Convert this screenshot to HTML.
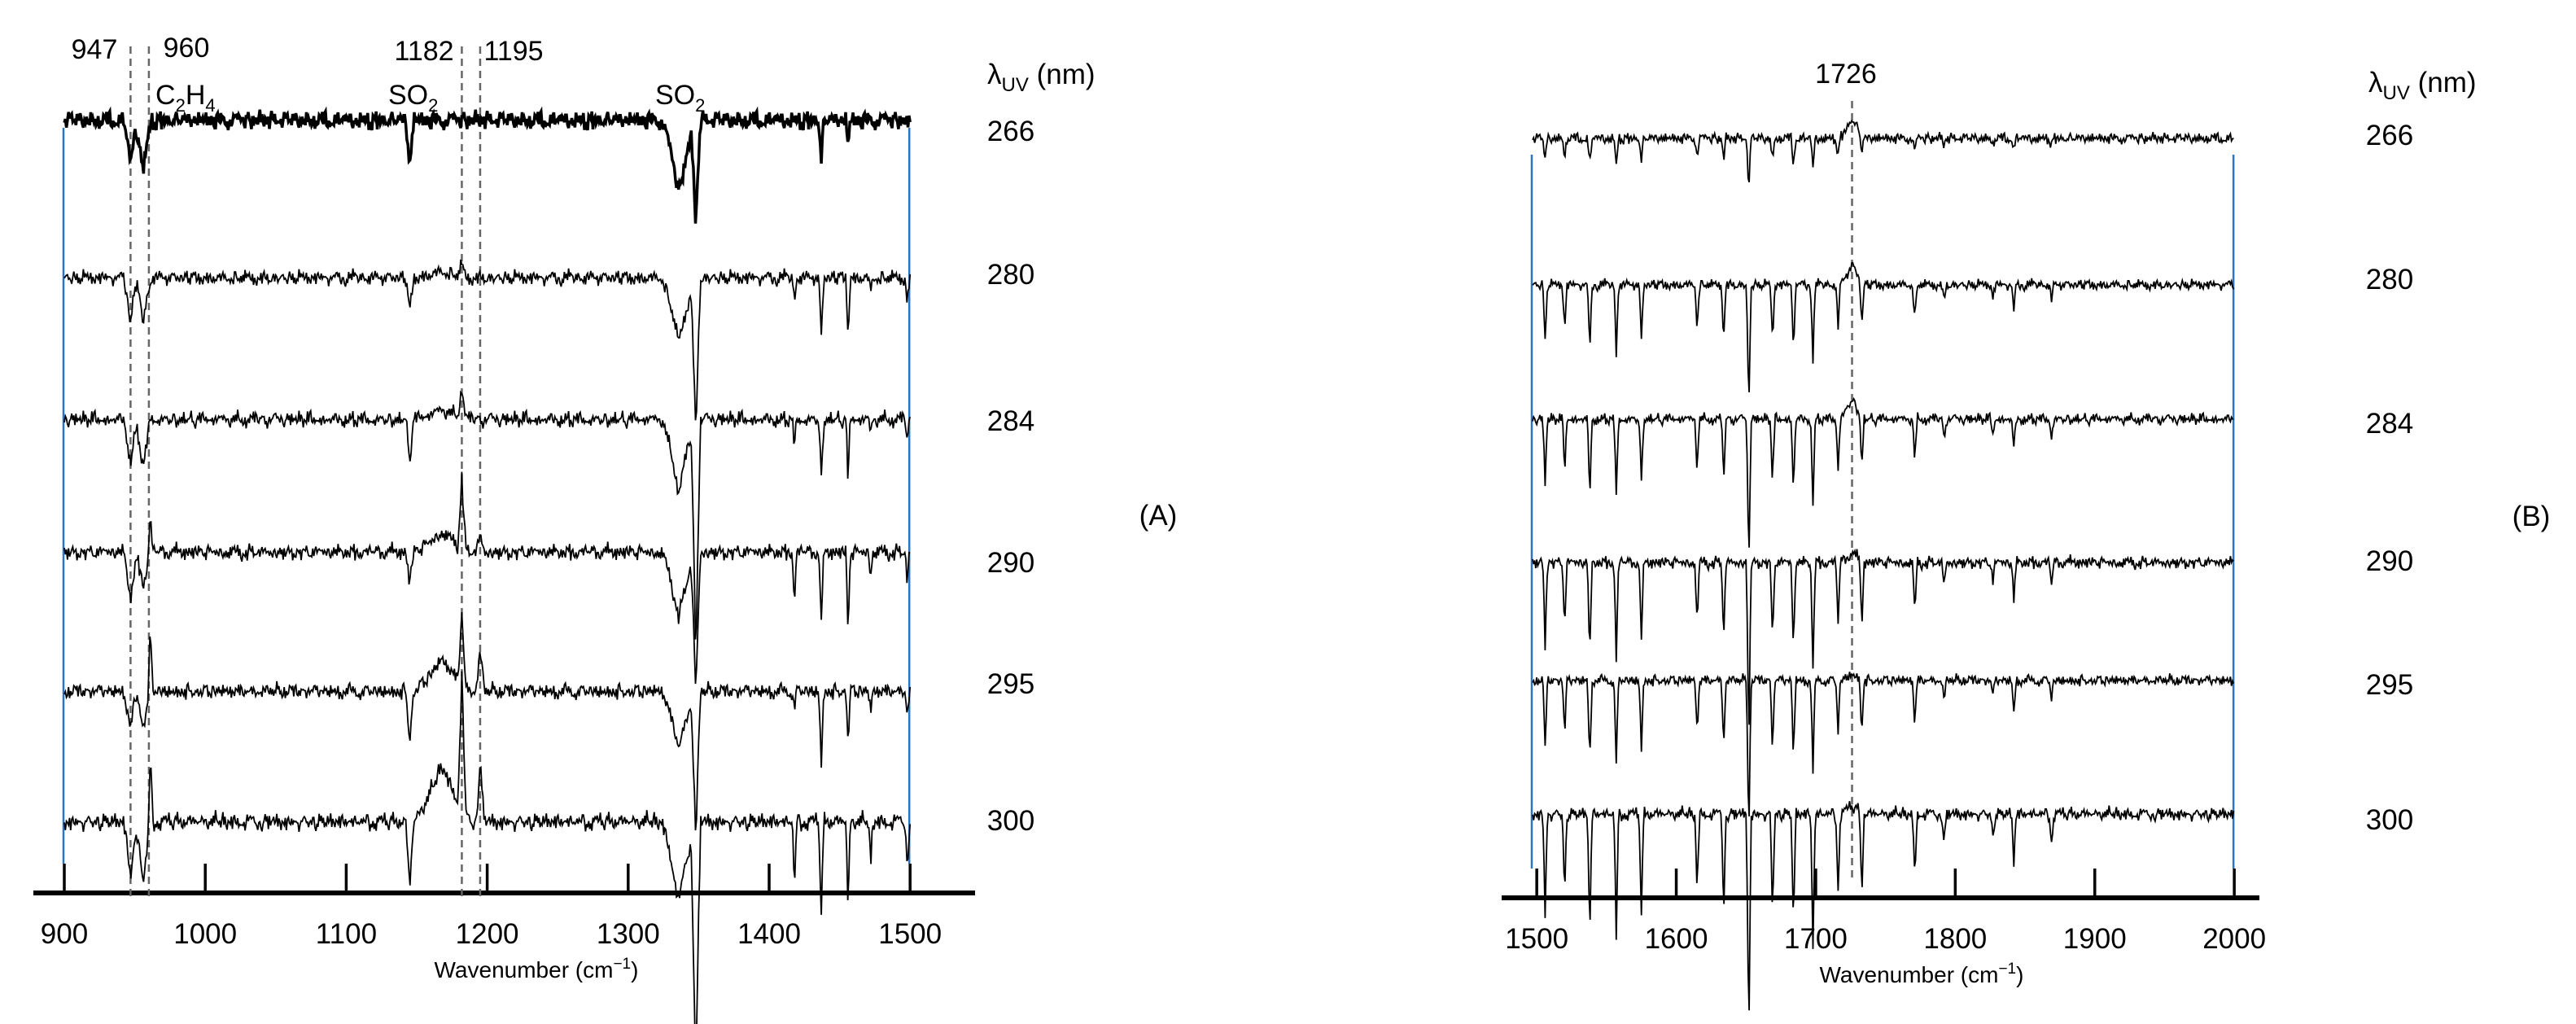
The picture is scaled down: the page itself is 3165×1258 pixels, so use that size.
<!DOCTYPE html>
<html><head><meta charset="utf-8"><style>
html,body{margin:0;padding:0;background:#fff;}
svg{display:block;font-family:"Liberation Sans",sans-serif;}
</style></head><body>
<svg id="fig" width="3165" height="1258" viewBox="0 0 3165 1258">
<g id="panelA"></g>
<g id="panelB"></g>
</svg>
<script>
// ---------- Data ----------
const traceLabels = ["266","280","284","290","295","300"];
// Panel A features (wavenumber, half-width in cm-1); amplitudes per trace (+ up / - down, px units)
const peaksA = [947, 956, 961, 1145, 1168, 1182, 1195, 1336, 1348, 1418, 1437, 1456, 1472, 1498];
const widthsA = [5, 6, 2, 3, 20, 3, 3.5, 12, 3.5, 1.6, 2, 1.6, 1.6, 1.6];
const ampA266 = [-55, -60, 0, -60, 0, 0, 0, -90, -130, 0, -50, -35, 0, -10];
const ampA280 = [-50, -55, 0, -45, 8, 15, 0, -80, -200, -35, -75, -80, -20, -35];
const ampA284 = [-55, -60, 10, -50, 12, 40, 0, -90, -300, -40, -75, -85, -20, -30];
const ampA290 = [-60, -40, 50, -40, 25, 90, 20, -80, -180, -70, -90, -115, -30, -40];
const ampA295 = [-45, -40, 80, -63, 40, 90, 50, -70, -190, -20, -90, -70, -30, -30];
const ampA300 = [-70, -75, 90, -85, 70, 170, 70, -100, -330, -90, -115, -120, -60, -60];
const ampsA = [ampA266, ampA280, ampA284, ampA290, ampA295, ampA300];
const noiseAmpA = [15, 13, 13, 13, 13, 15];

// Panel B dips and upward band at 1726
const peaksB = [1506, 1520, 1538, 1557, 1575, 1615, 1634, 1652, 1669, 1684, 1698, 1716, 1726, 1733, 1771, 1792, 1827, 1842, 1869];
const depthB = [-100, -84, -124, -124, -100, -80, -100, -233, -104, -116, -132, -76, 0, -84, -68, -32, -24, -48, -28];
const bumpB = [25, 25, 25, 12, 8, 10];
const scaleB = [0.28, 0.7, 0.8, 1.0, 0.85, 1.25];
const noiseAmpB = [9, 9, 9, 10, 9, 11];

// fixed jitter table (read texture of the baseline noise)
const jitter = [0.2,-0.6,0.9,-0.3,-0.8,0.5,0.1,-0.9,0.7,0.3,-0.4,0.8,-0.7,0.0,0.6,-0.2,-1.0,0.4,0.9,-0.5,0.2,-0.8,0.7,-0.1,0.5,-0.6,1.0,-0.3,0.3,-0.9,0.6,0.1,-0.7,0.8,-0.4,0.2,0.9,-0.6,-0.2,0.4,-0.8,0.7,0.0,-0.5,0.3,0.8,-0.9,0.5,-0.1,0.6,-0.3];

const ticksA = [900,1000,1100,1200,1300,1400,1500];
const ticksB = [1500,1600,1700,1800,1900,2000];
const markersA = [947, 960, 1182, 1195];
const markersB = [1726];

// ---------- Helpers ----------
const NS = "http://www.w3.org/2000/svg";
function mk(parent, tag, attrs, text) {
  const e = document.createElementNS(NS, tag);
  for (const k in attrs) e.setAttribute(k, attrs[k]);
  if (text !== undefined) e.textContent = text;
  parent.appendChild(e);
  return e;
}
function shape(wn, p, w) { const d = Math.abs(wn - p) / w; return d >= 1 ? 0 : (1 - d) * (1 - d * 0.3); }

function drawPanel(g, cfg) {
  const xs = v => cfg.x0 + (v - cfg.v0) * cfg.pxPer;
  const ax = mk(g, "line", {x1: cfg.axL, x2: cfg.axR, y1: cfg.axY, y2: cfg.axY, stroke: "#000", "stroke-width": 6});
  
  
  cfg.ticks.forEach(t => {
    const tl = mk(g, "line", {x1: xs(t), x2: xs(t), y1: cfg.axY - 36, y2: cfg.axY, stroke: "#000", "stroke-width": 3.5});
    
    
    const tx = mk(g, "text", {x: xs(t), y: cfg.axY + 62, "font-size": 35, "text-anchor": "middle", fill: "#000"}, String(t));
    
    
  });
  const title = mk(g, "text", {x: cfg.titleX, y: cfg.axY + 104, "font-size": 28, "text-anchor": "middle"});
  
  
  title.innerHTML = 'Wavenumber (cm<tspan dy="-11" font-size="19">−1</tspan><tspan dy="11">)</tspan>';
  [cfg.v0, cfg.v1].forEach(v => {
    const b = mk(g, "line", {x1: xs(v) - 1, x2: xs(v) - 1, y1: cfg.blueTop, y2: cfg.axY - 36, stroke: "#2e75c0", "stroke-width": 2.5});
    
    
  });
  cfg.markers.forEach(m => {
    const d = mk(g, "line", {x1: xs(m), x2: xs(m), y1: cfg.dashTop, y2: cfg.dashBot, stroke: "#666", "stroke-width": 2.5, "stroke-dasharray": "9,6"});
    
    
  });
  cfg.baselines.forEach((by, ti) => {
    let pts = [];
    let k = ti * 7;
    for (let wn = cfg.v0; wn <= cfg.v1 + 0.01; wn += 0.75) {
      let y = by;
      cfg.amp(ti).forEach((a, pi) => { y -= a * shape(wn, cfg.peaks[pi], cfg.widths[pi]); });
      y += jitter[k % jitter.length] * cfg.noise[ti] * 0.45 + jitter[(k * 3 + 5) % jitter.length] * cfg.noise[ti] * 0.3 + jitter[(Math.floor(k / 4) * 7 + ti) % jitter.length] * cfg.noise[ti] * 0.35;
      k++;
      pts.push(xs(wn).toFixed(1) + "," + y.toFixed(1));
    }
    const p = mk(g, "polyline", {points: pts.join(" "), fill: "none", stroke: "#000", "stroke-width": (cfg.thickFirst && ti === 0) ? 3.5 : 1.8, "stroke-linejoin": "miter"});
    
    
    const lab = mk(g, "text", {x: cfg.labX, y: cfg.labY[ti], "font-size": 35, "text-anchor": "middle"}, traceLabels[ti]);
    
    
  });
  const lam = mk(g, "text", {x: cfg.lamX, y: cfg.lamY, "font-size": 35});
  
  
  lam.innerHTML = 'λ<tspan dy="9" font-size="24">UV</tspan><tspan dy="-9"> (nm)</tspan>';
  const pl = mk(g, "text", {x: cfg.pX, y: cfg.pY, "font-size": 35, "text-anchor": "middle"}, cfg.pLabel);
  
  
}

const gA = document.getElementById("panelA");
drawPanel(gA, {
  v0: 900, v1: 1500, x0: 79, pxPer: 1.732, axL: 41, axR: 1198, axY: 1097, titleX: 659,
  ticks: ticksA, markers: markersA, blueTop: 157, dashTop: 57, dashBot: 1106,
  peaks: peaksA, widths: widthsA, amp: ti => ampsA[ti], noise: noiseAmpA,
  baselines: [146, 340, 514, 677, 848, 1008], thickFirst: true,
  labX: 1242, labY: [173, 349, 529, 703, 852, 1020], lamX: 1213, lamY: 103,
  pX: 1423, pY: 645, pLabel: "(A)"
});
[["947",116,72],["960",229,70],["1182",521,74],["1195",631,74]].forEach(a => {
  const t = mk(gA, "text", {x: a[1], y: a[2], "font-size": 34, "text-anchor": "middle"}, a[0]);
  
  
});
const c2h4 = mk(gA, "text", {x: 191, y: 128, "font-size": 34});


c2h4.innerHTML = 'C<tspan dy="9" font-size="22">2</tspan><tspan dy="-9">H</tspan><tspan dy="9" font-size="22">4</tspan>';
[[477,128],[805,128]].forEach(p => {
  const s = mk(gA, "text", {x: p[0], y: p[1], "font-size": 34});
  
  
  s.innerHTML = 'SO<tspan dy="9" font-size="22">2</tspan>';
});

const gB = document.getElementById("panelB");
drawPanel(gB, {
  v0: 1497, v1: 2000, x0: 1883, pxPer: 1.714, axL: 1845, axR: 2776, axY: 1103, titleX: 2361,
  ticks: ticksB, markers: markersB, blueTop: 190, dashTop: 124, dashBot: 1083,
  peaks: peaksB, widths: peaksB.map((p, i) => p === 1726 ? 9 : 1.8),
  amp: ti => depthB.map((d, i) => peaksB[i] === 1726 ? bumpB[ti] : d * scaleB[ti]), noise: noiseAmpB,
  baselines: [169, 349, 514, 690, 835, 999], thickFirst: false,
  labX: 2936, labY: [178, 355, 532, 701, 853, 1019], lamX: 2910, lamY: 113,
  pX: 3110, pY: 646, pLabel: "(B)"
});
const t1726 = mk(gB, "text", {x: 2268, y: 102, "font-size": 34, "text-anchor": "middle"}, "1726");


</script>
</body></html>
